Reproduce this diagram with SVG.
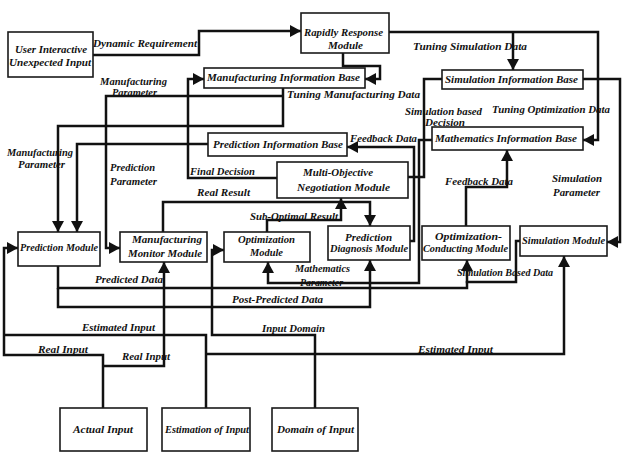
<svg xmlns="http://www.w3.org/2000/svg" width="622" height="456" viewBox="0 0 622 456">
<defs>
<style>
.b{fill:#fff;stroke:#1a1a1a;stroke-width:1.6}
.c{fill:none;stroke:#111;stroke-width:2.5;stroke-linejoin:miter}
.a{marker-end:url(#ah)}
text{font-family:"Liberation Serif","Times New Roman",serif;font-weight:bold;font-style:italic;font-size:10px;fill:#111}
</style>
<marker id="ah" markerUnits="userSpaceOnUse" markerWidth="12" markerHeight="12" refX="11" refY="6" orient="auto">
<path d="M0,0 L11,6 L0,12 z" fill="#111"/>
</marker>
</defs>
<rect width="622" height="456" fill="#fff"/>

<g id="connectors">
<path class="c a" d="M93,55 H199 V31 H301"/>
<path class="c a" d="M343,53 V66 H380 V79 H365"/>
<path class="c a" d="M389,32 H598 V140 H583"/>
<path class="c a" d="M513,32 V70"/>
<path class="c a" d="M583,79 H620 V242 H607"/>
<path class="c" d="M442,79 H424 V177 H408"/>
<path class="c a" d="M277,178 H188 V79 H204"/>
<path class="c a" d="M283,88 V126 H58 V232"/>
<path class="c a" d="M283,96 H106 V248 H120"/>
<path class="c a" d="M208,144 H77 V232"/>
<path class="c a" d="M410,241 H414 V147 H347"/>
<path class="c a" d="M466,226 V187 H507 V150"/>
<path class="c a" d="M432,140 H419 V283 H268 V262"/>
<path class="c a" d="M163,232 V202 H370 V226"/>
<path class="c a" d="M267,232 V220 H341 V198"/>
<path class="c a" d="M520,241 H516 V282 H467 V260"/>
<path class="c" d="M58,266 V288 H467 V281"/>
<path class="c a" d="M58,288 V307 H370 V260"/>
<path class="c a" d="M103,408 V355 H4 V248 H18"/>
<path class="c a" d="M103,366 H164 V262"/>
<path class="c" d="M206,408 V335 H4"/>
<path class="c a" d="M206,354 H564 V256"/>
<path class="c a" d="M315,408 V335 H212 V250 H224"/>
</g>

<g id="labels">
<text x="93" y="47" textLength="104" lengthAdjust="spacingAndGlyphs">Dynamic Requirement</text>
<text x="413" y="50" textLength="114" lengthAdjust="spacingAndGlyphs">Tuning Simulation Data</text>
<text x="100" y="85" textLength="67" lengthAdjust="spacingAndGlyphs">Manufacturing</text>
<text x="112" y="96" textLength="45" lengthAdjust="spacingAndGlyphs">Parameter</text>
<text x="287" y="98" textLength="133" lengthAdjust="spacingAndGlyphs">Tuning Manufacturing Data</text>
<text x="405" y="115" textLength="77" lengthAdjust="spacingAndGlyphs">Simulation based</text>
<text x="425" y="126" textLength="40" lengthAdjust="spacingAndGlyphs">Decision</text>
<text x="492" y="113" textLength="118" lengthAdjust="spacingAndGlyphs">Tuning Optimization Data</text>
<text x="350" y="142" textLength="67" lengthAdjust="spacingAndGlyphs">Feedback Data</text>
<text x="7" y="156" textLength="66" lengthAdjust="spacingAndGlyphs">Manufacturing</text>
<text x="18" y="168" textLength="47" lengthAdjust="spacingAndGlyphs">Parameter</text>
<text x="110" y="171" textLength="45" lengthAdjust="spacingAndGlyphs">Prediction</text>
<text x="110" y="185" textLength="47" lengthAdjust="spacingAndGlyphs">Parameter</text>
<text x="190" y="175" textLength="65" lengthAdjust="spacingAndGlyphs">Final Decision</text>
<text x="197" y="196" textLength="53" lengthAdjust="spacingAndGlyphs">Real Result</text>
<text x="445" y="185" textLength="68" lengthAdjust="spacingAndGlyphs">Feedback Data</text>
<text x="552" y="182" textLength="50" lengthAdjust="spacingAndGlyphs">Simulation</text>
<text x="553" y="196" textLength="47" lengthAdjust="spacingAndGlyphs">Parameter</text>
<text x="250" y="220" textLength="88" lengthAdjust="spacingAndGlyphs">Sub-Optimal Result</text>
<text x="95" y="283" textLength="68" lengthAdjust="spacingAndGlyphs">Predicted Data</text>
<text x="295" y="272" textLength="55" lengthAdjust="spacingAndGlyphs">Mathematics</text>
<text x="300" y="286" textLength="43" lengthAdjust="spacingAndGlyphs">Parameter</text>
<text x="457" y="276" textLength="96" lengthAdjust="spacingAndGlyphs">Simulation Based Data</text>
<text x="232" y="303" textLength="91" lengthAdjust="spacingAndGlyphs">Post-Predicted Data</text>
<text x="82" y="331" textLength="73" lengthAdjust="spacingAndGlyphs">Estimated Input</text>
<text x="262" y="332" textLength="63" lengthAdjust="spacingAndGlyphs">Input Domain</text>
<text x="38" y="353" textLength="50" lengthAdjust="spacingAndGlyphs">Real Input</text>
<text x="122" y="360" textLength="48" lengthAdjust="spacingAndGlyphs">Real Input</text>
<text x="418" y="353" textLength="75" lengthAdjust="spacingAndGlyphs">Estimated Input</text>
</g>

<g id="user-input">
<rect class="b" x="8" y="32" width="85" height="45"/>
<text x="15" y="53" textLength="72" lengthAdjust="spacingAndGlyphs">User Interactive</text>
<text x="9" y="66" textLength="82" lengthAdjust="spacingAndGlyphs">Unexpected Input</text>
</g>
<g id="rapidly-response">
<rect class="b" x="301" y="13" width="88" height="40"/>
<text x="304" y="36" textLength="79" lengthAdjust="spacingAndGlyphs">Rapidly Response</text>
<text x="328" y="49" textLength="35" lengthAdjust="spacingAndGlyphs">Module</text>
</g>
<g id="manufacturing-info-base">
<rect class="b" x="204" y="68" width="161" height="20"/>
<text x="207" y="81" textLength="153" lengthAdjust="spacingAndGlyphs">Manufacturing Information Base</text>
</g>
<g id="simulation-info-base">
<rect class="b" x="442" y="70" width="141" height="19"/>
<text x="445" y="83" textLength="133" lengthAdjust="spacingAndGlyphs">Simulation Information Base</text>
</g>
<g id="prediction-info-base">
<rect class="b" x="208" y="133" width="139" height="23"/>
<text x="213" y="148" textLength="130" lengthAdjust="spacingAndGlyphs">Prediction Information Base</text>
</g>
<g id="mathematics-info-base">
<rect class="b" x="432" y="127" width="151" height="23"/>
<text x="435" y="142" textLength="142" lengthAdjust="spacingAndGlyphs">Mathematics Information Base</text>
</g>
<g id="negotiation-module">
<rect class="b" x="277" y="162" width="131" height="36"/>
<text x="303" y="176" textLength="70" lengthAdjust="spacingAndGlyphs">Multi-Objective</text>
<text x="297" y="191" textLength="93" lengthAdjust="spacingAndGlyphs">Negotiation  Module</text>
</g>
<g id="prediction-module">
<rect class="b" x="18" y="232" width="82" height="34"/>
<text x="20" y="251" textLength="78" lengthAdjust="spacingAndGlyphs">Prediction Module</text>
</g>
<g id="monitor-module">
<rect class="b" x="120" y="232" width="87" height="30"/>
<text x="132" y="243" textLength="70" lengthAdjust="spacingAndGlyphs">Manufacturing</text>
<text x="128" y="257" textLength="74" lengthAdjust="spacingAndGlyphs">Monitor Module</text>
</g>
<g id="optimization-module">
<rect class="b" x="224" y="232" width="86" height="30"/>
<text x="238" y="243" textLength="57" lengthAdjust="spacingAndGlyphs">Optimization</text>
<text x="250" y="256" textLength="33" lengthAdjust="spacingAndGlyphs">Module</text>
</g>
<g id="diagnosis-module">
<rect class="b" x="328" y="226" width="82" height="34"/>
<text x="345" y="241" textLength="47" lengthAdjust="spacingAndGlyphs">Prediction</text>
<text x="330" y="252" textLength="78" lengthAdjust="spacingAndGlyphs">Diagnosis Module</text>
</g>
<g id="conducting-module">
<rect class="b" x="422" y="226" width="88" height="34"/>
<text x="435" y="240" textLength="67" lengthAdjust="spacingAndGlyphs">Optimization-</text>
<text x="423" y="252" textLength="85" lengthAdjust="spacingAndGlyphs">Conducting Module</text>
</g>
<g id="simulation-module">
<rect class="b" x="520" y="226" width="87" height="30"/>
<text x="522" y="244" textLength="83" lengthAdjust="spacingAndGlyphs">Simulation Module</text>
</g>
<g id="actual-input">
<rect class="b" x="60" y="408" width="87" height="43"/>
<text x="73" y="433" textLength="60" lengthAdjust="spacingAndGlyphs">Actual Input</text>
</g>
<g id="estimation-input">
<rect class="b" x="162" y="408" width="88" height="43"/>
<text x="165" y="433" textLength="84" lengthAdjust="spacingAndGlyphs">Estimation of Input</text>
</g>
<g id="domain-input">
<rect class="b" x="272" y="408" width="86" height="43"/>
<text x="277" y="433" textLength="77" lengthAdjust="spacingAndGlyphs">Domain of Input</text>
</g>
</svg>
